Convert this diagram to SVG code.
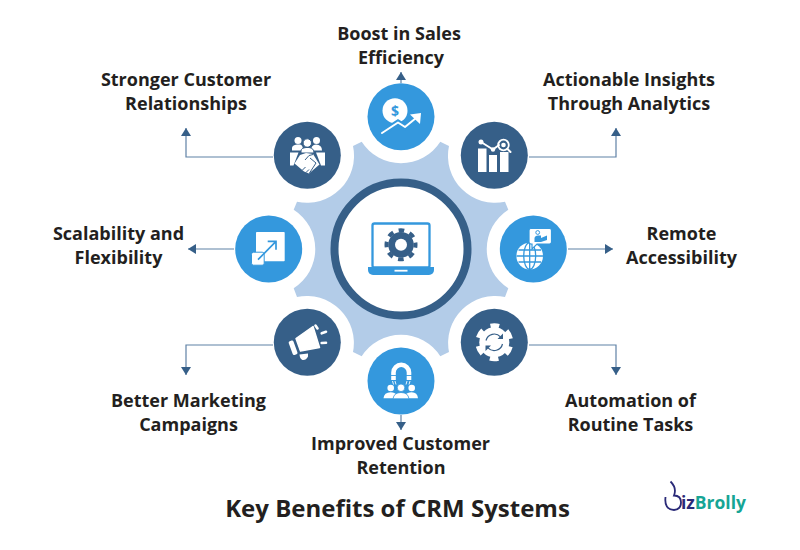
<svg xmlns="http://www.w3.org/2000/svg" width="800" height="550" viewBox="0 0 800 550">
<defs>
<style>
.lbl{font-family:"Open Sans","Noto Sans",sans-serif;font-weight:700;font-size:18px;fill:#231f20;text-anchor:middle}
.ttl{font-family:"Open Sans","Noto Sans",sans-serif;font-weight:700;font-size:24px;fill:#231f20;text-anchor:middle}
.dk{fill:#365f88}.lt{fill:#3498dd}
.w{fill:#fff}.ws{fill:none;stroke:#fff;stroke-width:2;stroke-linecap:round;stroke-linejoin:round}
.conn{fill:none;stroke:#5f81a6;stroke-width:1.2}
</style>
<marker id="ah" viewBox="0 0 8 10" refX="8" refY="5" markerWidth="8" markerHeight="10" markerUnits="userSpaceOnUse" orient="auto"><path d="M0 0L8 5L0 10z" fill="#365f88"/></marker>
</defs>
<rect width="800" height="550" fill="#fff"/>
<path id="hub" fill="#b3cce8" d="M361.700 141.700A46.600 46.600 0 0 0 440.300 141.700L449 146A47 47 0 0 0 505 201.700L508.300 209.700A46.600 46.600 0 0 0 508.300 288.300L505 297A47 47 0 0 0 449 352L440.300 356.300A46.600 46.600 0 0 0 361.700 356.300L353 352A47 47 0 0 0 297 297L293.700 288.300A46.600 46.600 0 0 0 293.700 209.700L297 201.700A47 47 0 0 0 353 146Z"/>
<g id="center">
<circle cx="401" cy="249" r="66.500" fill="#fff" stroke="#365f88" stroke-width="8"/>
<rect x="372.500" y="223.500" width="57" height="44" rx="2" fill="#fff" stroke="#3498dd" stroke-width="2.300"/>
<path class="lt" d="M368 267H434V270A5 5 0 0 1 429 275H373A5 5 0 0 1 368 270Z"/>
<rect x="394.500" y="269.800" width="13" height="1.800" class="w"/>
<circle cx="401" cy="244.800" r="12.800" class="dk"/>
<circle cx="401" cy="244.800" r="14.500" fill="none" stroke="#365f88" stroke-width="4" stroke-dasharray="5.690 5.700" stroke-dashoffset="2.850"/>
<circle cx="401" cy="244.800" r="6" class="w"/>
</g>
<g id="connectors">
<path class="conn" marker-end="url(#ah)" d="M401 83V72"/>
<path class="conn" marker-end="url(#ah)" d="M273 157H186V128"/>
<path class="conn" marker-end="url(#ah)" d="M529 157H616V128"/>
<path class="conn" marker-end="url(#ah)" d="M234 249H188"/>
<path class="conn" marker-end="url(#ah)" d="M568 249H613"/>
<path class="conn" marker-end="url(#ah)" d="M273 345H186V375"/>
<path class="conn" marker-end="url(#ah)" d="M529 345H616V375"/>
<path class="conn" marker-end="url(#ah)" d="M401 415V430"/>
</g>
<g id="n-sales">
<circle class="lt" cx="401" cy="116.700" r="33.500"/>
<circle class="w" cx="395" cy="110.700" r="12.500"/>
<path d="M382 133L398 122.500L405 127L417 117" fill="none" stroke="#3498dd" stroke-width="6"/>
<path d="M382 133L398 122.500L405 127L416 118" class="ws" stroke-width="2.400"/>
<path class="w" d="M410 114.500L421 113L420 124Z"/>
<text x="395" y="116" font-family="Open Sans" font-weight="700" font-size="14" fill="#3498dd" text-anchor="middle">$</text>
<text class="lbl" x="399" y="40">Boost in Sales</text><text class="lbl" x="401" y="64">Efficiency</text>
</g>
<g id="n-relationships">
<circle class="dk" cx="307.300" cy="155.300" r="33.500"/>
<g class="w"><circle cx="298" cy="140.500" r="3.500"/><circle cx="316.500" cy="140.500" r="3.500"/>
<path d="M292 150.500V148Q292 145 297 144.500H300Q303 145 303 150.500Z"/><path d="M311 150.500Q311 145 316 144.500Q322 145 322 150.500Z"/></g>
<circle cx="307.300" cy="143" r="4.200" class="w" stroke="#365f88" stroke-width="1"/>
<path class="w" stroke="#365f88" stroke-width="1" d="M301 153V151Q301 148 306 147.500H309Q314 148 314 153Z"/>
<g class="w"><path d="M290 152.500H298.500L293.500 165.500H290Z"/><path d="M325 152.500H316L321 165.500H325Z"/>
<path d="M300 155L306 153L313 154L319.500 164.500L309 173.500L304 171.500L294.500 163.500Z"/></g>
<path fill="none" stroke="#365f88" stroke-width="1" d="M305 160L309 155.500L313 154.500M302.500 170L305.500 167M306 172.500L309 169.500M309.500 173L316 163L310 158"/>
<text class="lbl" x="186" y="86">Stronger Customer</text><text class="lbl" x="186" y="110">Relationships</text>
</g>
<g id="n-insights">
<circle class="dk" cx="494.300" cy="155.300" r="33.500"/>
<g class="w"><rect x="478" y="148.500" width="8.500" height="23.500"/><rect x="489" y="155" width="8" height="17"/><rect x="500" y="152" width="8.500" height="20"/>
<circle cx="481" cy="142" r="2.500"/><circle cx="493" cy="149.500" r="2.200"/></g>
<path d="M481 142L493 149.500L499 145" class="ws"/>
<circle cx="503.500" cy="145" r="5.300" fill="none" stroke="#fff" stroke-width="1.800"/>
<circle cx="503.500" cy="145" r="2.300" class="w"/>
<path d="M507.500 149L510.500 152" class="ws"/>
<text class="lbl" x="629" y="86">Actionable Insights</text><text class="lbl" x="629" y="110">Through Analytics</text>
</g>
<g id="n-remote">
<circle class="lt" cx="533.300" cy="249" r="33.500"/>
<circle cx="529.700" cy="256" r="13.300" class="w"/>
<g fill="none" stroke="#3498dd" stroke-width="1.300"><ellipse cx="529.700" cy="256" rx="6" ry="13.300"/><path d="M529.700 243V269.500M516.500 256H543M518.500 250H541M518.500 262H541"/></g>
<path class="w" stroke="#3498dd" stroke-width="1.200" d="M531 228.500H549.500Q551.500 228.500 551.500 230.500V242Q551.500 244 549.500 244H537L532 249L532 244H531Q529 244 529 242V230.500Q529 228.500 531 228.500Z"/>
<circle cx="537.700" cy="232.500" r="1.900" fill="none" stroke="#3498dd" stroke-width="1"/><path d="M534.500 242V238Q535 235.500 538 235.500H541V238L547 235.500V240L541 242Z" fill="#3498dd"/>
<text class="lbl" x="681.500" y="240">Remote</text><text class="lbl" x="681.500" y="264">Accessibility</text>
</g>
<g id="n-scalability">
<circle class="lt" cx="268.700" cy="249" r="33.500"/>
<rect x="256" y="232" width="28.700" height="29.300" rx="0.800" class="w"/>
<rect x="251.500" y="252.200" width="12.700" height="13" rx="2" class="w" stroke="#3498dd" stroke-width="1"/>
<path d="M258 259.700L276 241.300M267.700 241.300H276V249.700" fill="none" stroke="#3498dd" stroke-width="1.700"/>
<text class="lbl" x="118.500" y="240">Scalability and</text><text class="lbl" x="118.500" y="264">Flexibility</text>
</g>
<g id="n-marketing">
<circle class="dk" cx="307.300" cy="342.300" r="33.500"/>
<path class="w" stroke="#fff" stroke-width="1.500" stroke-linejoin="round" d="M296 338.500L313 326.500L319.500 347.500L300.500 351Z"/>
<rect x="290.500" y="340.500" width="5" height="14.500" rx="1.500" transform="rotate(-20 293 347.500)" class="w"/>
<path class="w" d="M299.500 354.500L308 353.500V356.500Q306 360.500 302.500 360Q300 359 299.500 354.500Z"/>
<path d="M315.500 325.500L317.500 328.500M321.700 333.300L326 331.800M321.700 343L326 342.800" fill="none" stroke="#fff" stroke-width="2.600" stroke-linecap="round"/>
<text class="lbl" x="188.500" y="407">Better Marketing</text><text class="lbl" x="188.500" y="431">Campaigns</text>
</g>
<g id="n-retention">
<circle class="lt" cx="401" cy="381" r="33.500"/>
<path d="M393.500 380V372.500A7.700 7.700 0 0 1 409 372.500V380" fill="none" stroke="#fff" stroke-width="4.600"/>
<path d="M390 375.500H397M405.500 375.500H412.500" stroke="#3498dd" stroke-width="0.900" fill="none"/>
<path d="M392.500 381L393.500 384.500M395 381L396 384.500M407 381L406 384.500M410 381L409 384.500" fill="none" stroke="#fff" stroke-width="0.900"/>
<g class="w"><circle cx="390.700" cy="388" r="3.300"/><circle cx="411.700" cy="388" r="3.300"/>
<path d="M383.500 398.300Q384 392.300 390.700 392.300Q395 392.300 396.500 395L394 398.300Z"/><path d="M418 398.300Q417.500 392.300 411.700 392.300Q407 392.300 405.500 395L408 398.300Z"/></g>
<circle cx="401" cy="387.800" r="3.800" class="w" stroke="#3498dd" stroke-width="0.800"/>
<path class="w" stroke="#3498dd" stroke-width="0.800" d="M393 398.800Q394 392.500 401 392.500Q408 392.500 409 398.800Z"/>
<text class="lbl" x="400.500" y="450">Improved Customer</text><text class="lbl" x="401" y="474">Retention</text>
</g>
<g id="n-automation">
<circle class="dk" cx="494.300" cy="342.300" r="33.500"/>
<circle cx="494.300" cy="342.300" r="15" class="w"/>
<circle cx="494.300" cy="342.300" r="16.500" fill="none" stroke="#fff" stroke-width="5" stroke-dasharray="8.640 8.640" stroke-dashoffset="-4.320"/>
<path d="M486 340.500A8.500 8.500 0 0 1 500.500 336.800M502.500 344A8.500 8.500 0 0 1 488 347.800" fill="none" stroke="#365f88" stroke-width="1.200"/>
<path d="M503 333.500V339H497.500ZM485.500 351V345.500H491Z" fill="#365f88"/>
<text class="lbl" x="630.500" y="407">Automation of</text><text class="lbl" x="630.500" y="431">Routine Tasks</text>
</g>
<text class="ttl" x="397.500" y="517">Key Benefits of CRM Systems</text>
<g id="logo">
<path d="M665.500 497Q664 509.500 674 510Q681 509.500 681 502.500Q681 495.500 674 495.500Q677 488 670.500 481.500" fill="none" stroke="#2a2a78" stroke-width="1.800"/>
<text x="681" y="508.500" font-family="Open Sans" font-weight="700" font-size="18" textLength="65" lengthAdjust="spacingAndGlyphs"><tspan fill="#2a2a78">iz</tspan><tspan fill="#16a595">Brolly</tspan></text>
</g>
</svg>
